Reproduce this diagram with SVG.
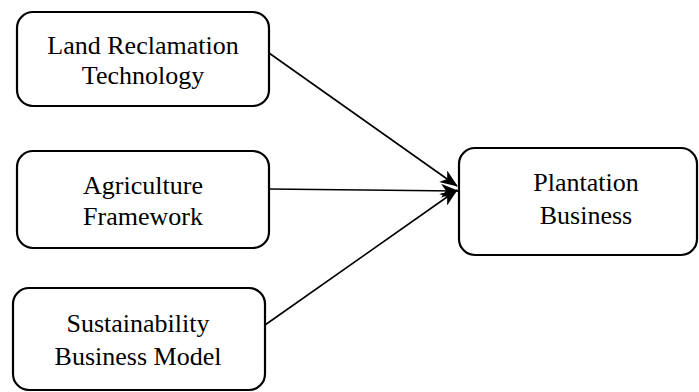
<svg xmlns="http://www.w3.org/2000/svg" width="699" height="392" viewBox="0 0 699 392">
<defs>
<style>
.box{fill:#fff;stroke:#000;stroke-width:2.2}
.t{font-family:"Liberation Serif","Times New Roman",serif;font-size:26px;fill:#000;text-anchor:middle}
.c{stroke:#000;stroke-width:1.6;fill:none}
</style>
<marker id="ah" markerWidth="18" markerHeight="14" viewBox="0 0 18 14" refX="17" refY="7" orient="auto" markerUnits="userSpaceOnUse">
<path d="M0,0 L18,7 L0,14 L5,7 Z" fill="#000"/>
</marker>
</defs>
<rect width="699" height="392" fill="#fff"/>
<g id="connectors">
<line class="c" x1="269" y1="53" x2="457" y2="186" marker-end="url(#ah)"/>
<line class="c" x1="269" y1="189" x2="458" y2="191" marker-end="url(#ah)"/>
<line class="c" x1="265" y1="325" x2="457" y2="190" marker-end="url(#ah)"/>
</g>
<g id="land">
<rect class="box" x="17" y="12" width="252" height="94" rx="16"/>
<text class="t" x="143" y="54">Land Reclamation</text>
<text class="t" x="143" y="84">Technology</text>
</g>
<g id="agri">
<rect class="box" x="17" y="151" width="252" height="97" rx="16"/>
<text class="t" x="143" y="194">Agriculture</text>
<text class="t" x="143" y="225">Framework</text>
</g>
<g id="sust">
<rect class="box" x="13" y="288" width="252" height="102" rx="16"/>
<text class="t" x="138" y="332">Sustainability</text>
<text class="t" x="138" y="365">Business Model</text>
</g>
<g id="plant">
<rect class="box" x="459" y="148" width="238" height="107" rx="16"/>
<text class="t" x="586" y="191">Plantation</text>
<text class="t" x="586" y="224">Business</text>
</g>
</svg>
